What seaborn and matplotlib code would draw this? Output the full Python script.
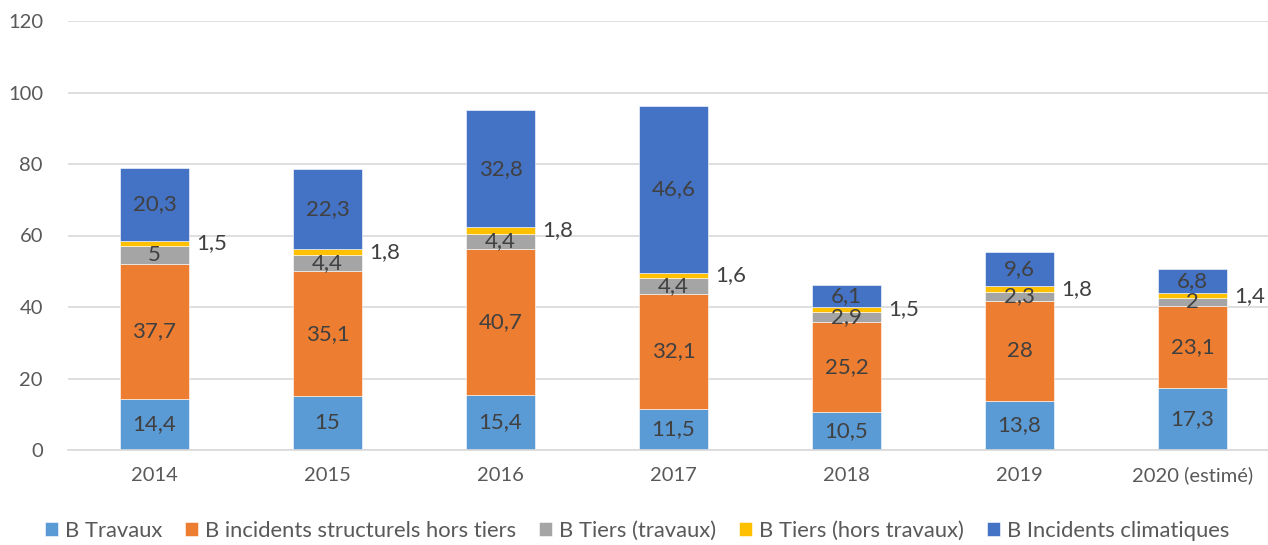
import matplotlib
matplotlib.use("Agg")
import matplotlib.pyplot as plt
import seaborn as sns
import numpy as np
import pandas as pd

years = ["2014", "2015", "2016", "2017", "2018", "2019", "2020 (estimé)"]
travaux = [14.4, 15, 15.4, 11.5, 10.5, 13.8, 17.3]
structurels = [37.7, 35.1, 40.7, 32.1, 25.2, 28, 23.1]
tiers_travaux = [5, 4.4, 4.4, 4.4, 2.9, 2.3, 2]
tiers_hors = [1.5, 1.8, 1.8, 1.6, 1.5, 1.8, 1.4]
climatiques = [20.3, 22.3, 32.8, 46.6, 6.1, 9.6, 6.8]

series_names = ["B Travaux", "B incidents structurels hors tiers", "B Tiers (travaux)",
                "B Tiers (hors travaux)", "B Incidents climatiques"]
series_vals = [travaux, structurels, tiers_travaux, tiers_hors, climatiques]
colors = ["#5B9BD5", "#ED7D31", "#A5A5A5", "#FFC000", "#4472C4"]

sns.set_theme(style="white")
plt.rcParams["font.family"] = ["Lato", "DejaVu Sans"]

W, H = 1268, 545
fig = plt.figure(figsize=(W / 100, H / 100), dpi=100)
ax = fig.add_axes([68 / W, 95 / H, (1279 - 68) / W, 429 / H])

def fmt(v):
    s = f"{v:g}"
    return s.replace(".", ",")

bottom = np.zeros(len(years))
for name, vals, col in zip(series_names, series_vals, colors):
    df = pd.DataFrame({"year": years, "val": vals})
    sns.barplot(data=df, x="year", y="val", color=col, bottom=bottom.copy(),
                width=0.4, ax=ax, label=name, saturation=1,
                edgecolor="white", linewidth=0.4)
    for i, v in enumerate(vals):
        yc = bottom[i] + v / 2
        if name == "B Tiers (hors travaux)":
            ax.annotate(fmt(v), (i + 0.2, yc), xytext=(5, 0), textcoords="offset points",
                        ha="left", va="center", fontsize=16, color="#404040")
        else:
            ax.text(i, yc, fmt(v), ha="center", va="center", fontsize=16, color="#404040")
    bottom += np.array(vals)

if ax.get_legend() is not None:
    ax.get_legend().remove()

ax.set_xlim(-0.5, len(years) - 0.5)
ax.set_ylim(0, 120)
ax.set_yticks(range(0, 121, 20))
ax.yaxis.grid(True, color="#D9D9D9", linewidth=1.2)
ax.set_axisbelow(True)
ax.set_xlabel("")
ax.set_ylabel("")
for s in ["top", "right", "left"]:
    ax.spines[s].set_visible(False)
ax.spines["bottom"].set_color("#D9D9D9")
ax.spines["bottom"].set_linewidth(1.2)
ax.tick_params(axis="both", length=0, labelsize=14.5, colors="#595959")
ax.tick_params(axis="x", pad=12)
ax.tick_params(axis="y", pad=18)

handles, labels = ax.get_legend_handles_labels()
leg = fig.legend(handles, labels, loc="center", bbox_to_anchor=(637 / W, 1 - 531 / H),
                 ncol=5, frameon=False, fontsize=15.8, handlelength=0.6, handleheight=0.6,
                 handletextpad=0.3, columnspacing=1.05)
for t in leg.get_texts():
    t.set_color("#595959")

fig.savefig("out.png", dpi=100)
